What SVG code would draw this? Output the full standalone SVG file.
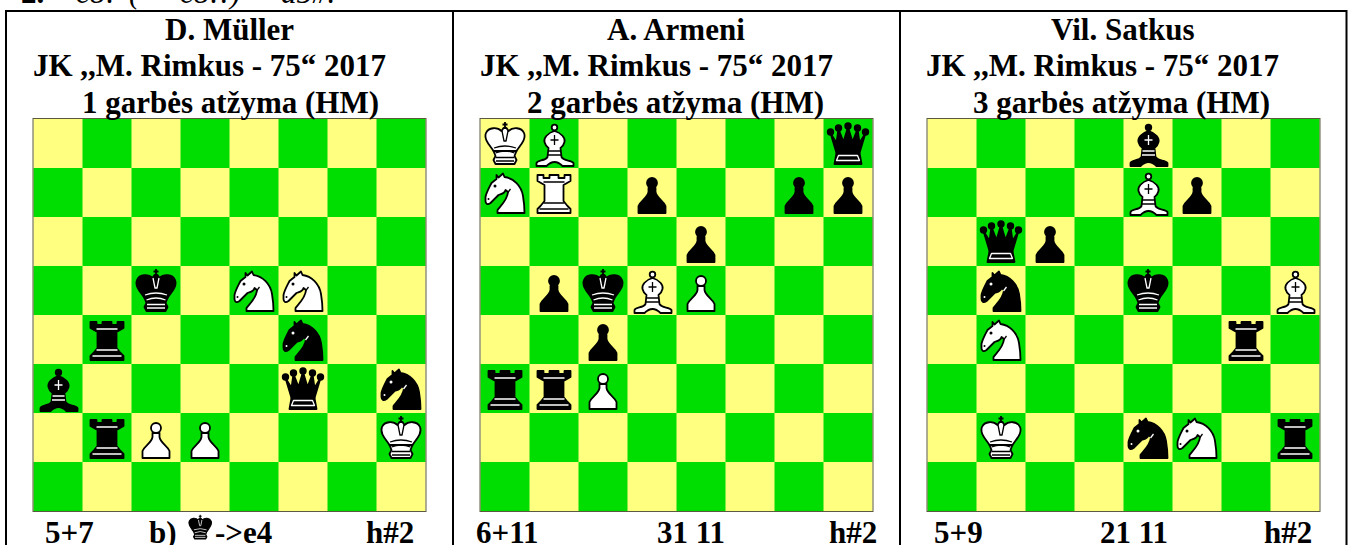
<svg xmlns="http://www.w3.org/2000/svg" width="1349" height="545" viewBox="0 0 1349 545">
<style>
text{font-family:"Liberation Serif","Times New Roman",serif;font-weight:700;font-size:31px;fill:#000}
.top{font-style:italic;font-weight:400}
.frame{stroke:#000;stroke-width:2;fill:none}
.y{fill:#ffff80}
.g{fill:#00dd00}
.w{fill:#fff;stroke:#000;color:#000;stroke-width:1.8;stroke-linejoin:round}
.b{fill:#000;stroke:#000;color:#fff;stroke-width:1.8;stroke-linejoin:round}
.d{fill:none;stroke:currentColor;stroke-width:1.3}
.e{fill:currentColor;stroke:none}
</style>
<defs>
<g id="board">
<rect class="y" width="392" height="392"/>
<path class="g" d="M49 0h49v49h-49zM147 0h49v49h-49zM245 0h49v49h-49zM343 0h49v49h-49zM0 49h49v49h-49zM98 49h49v49h-49zM196 49h49v49h-49zM294 49h49v49h-49zM49 98h49v49h-49zM147 98h49v49h-49zM245 98h49v49h-49zM343 98h49v49h-49zM0 147h49v49h-49zM98 147h49v49h-49zM196 147h49v49h-49zM294 147h49v49h-49zM49 196h49v49h-49zM147 196h49v49h-49zM245 196h49v49h-49zM343 196h49v49h-49zM0 245h49v49h-49zM98 245h49v49h-49zM196 245h49v49h-49zM294 245h49v49h-49zM49 294h49v49h-49zM147 294h49v49h-49zM245 294h49v49h-49zM343 294h49v49h-49zM0 343h49v49h-49zM98 343h49v49h-49zM196 343h49v49h-49zM294 343h49v49h-49z"/>
<rect x="-.5" y="-.5" width="393" height="393" fill="none" stroke="#5a5a40" stroke-width="1"/>
</g>
<g id="K">
<path d="M24.5 3v7M22 5.5h5" fill="none"/>
<path d="M21 12C17 8 8 8 5.500 14C3 20 9 26 13 32H36C40 26 46 20 43.500 14C41 8 32 8 28 12L26 9H23Z"/>
<path d="M13 32L15 37L13 41L15 45H34L36 41L34 37L36 32Z"/>
<path class="d" d="M21.500 12L23.500 22L25.500 22L27.500 12M13.500 29Q24.500 25 35.500 29M15 34Q24.500 30 34 34M15.500 38.500H33.500M15.500 42H33.500"/>
</g>
<g id="Q">
<circle cx="7" cy="13" r="2.800"/><circle cx="15" cy="9" r="2.800"/><circle cx="24.500" cy="7" r="2.800"/><circle cx="34" cy="9" r="2.800"/><circle cx="42" cy="13" r="2.800"/>
<path d="M7 14L13 24L15 10L20 23L24.500 8L29 23L34 10L36 24L42 14L36 34H13Z"/>
<path d="M13 34H36L38 45H11Z"/>
<path class="d" d="M15 36.500H34L36 41.500H13Z"/>
</g>
<g id="R">
<path d="M8 7H14V10H20V7H29V10H35V7H41V13L34 17V33L38 38L41 41V45H8V41L11 38L15 33V17L8 13Z"/>
<path class="d" d="M14 14H35M14 35H35M10 41H39"/>
</g>
<g id="B">
<circle cx="25" cy="8.500" r="2.800"/>
<path d="M25 12C18 14 14 19 15 23C16 27 19 29 19 29L18 38C16 42 8 41 7 44V47H17C19 45 22 43 25 43C28 43 31 45 33 47H44V44C42 41 34 42 32 38L31 29C31 29 34 27 35 23C36 19 32 14 25 12Z"/>
<path class="d" d="M25 16V26M21 21H29M19 32H31M18.500 36H31.500"/>
</g>
<g id="N">
<path d="M16 7L18 9.500L22.500 5.500L24 9C33 10 41 18 42.500 28C43.500 34 44 40 44 45H17L17 42C20 38 27 32 27.500 24L25 22C24 26 20 26 18 27L10 35C7 37 5 36 5 33V29C6 24 9 19 11 15L16 11Z"/>
<circle class="e" cx="14.500" cy="18" r="1.500"/>
<circle class="e" cx="8" cy="31" r="1"/>
<path class="d" d="M27 25L30 21"/>
</g>
<g id="P">
<circle cx="24.500" cy="15" r="5"/>
<path d="M21 20H28V24C29 30 36 33 38 38V45H11V38C13 33 20 30 21 24Z"/>
</g>
</defs>
<g id="frame">
<path class="frame" d="M6 545V11H1346.500V545M453 11V545M900 11V545"/>
</g>
<text x="21" y="2.500">2.</text>
<text class="top" x="76" y="2.500">c8!</text>
<text class="top" x="129" y="2.500">(–</text>
<text class="top" x="180" y="2.500">c8!!)</text>
<text class="top" x="252" y="2.500">–</text>
<text class="top" x="281" y="2.500">a5#.</text>
<g id="diagram1">
<use href="#board" x="33.500" y="119"/>
<g transform="translate(33.500 119)">
<use class="b" href="#K" x="98" y="147"/><use class="w" href="#N" x="196" y="147"/><use class="w" href="#N" x="245" y="147"/>
<use class="b" href="#R" x="49" y="196"/><use class="b" href="#N" x="245" y="196"/>
<use class="b" href="#B" x="0" y="245"/><use class="b" href="#Q" x="245" y="245"/><use class="b" href="#N" x="343" y="245"/>
<use class="b" href="#R" x="49" y="294"/><use class="w" href="#P" x="98" y="294"/><use class="w" href="#P" x="147" y="294"/><use class="w" href="#K" x="343" y="294"/>
</g>
<text x="165" y="40">D. Müller</text>
<text x="33" y="76">JK ,,M. Rimkus - 75“ 2017</text>
<text x="82" y="112.500">1 garbės atžyma (HM)</text>
<text x="45" y="543">5+7</text>
<text x="149" y="543">b)</text>
<use class="b" href="#K" transform="translate(186 513) scale(.58)"/>
<text x="215" y="543">-&gt;e4</text>
<text x="366" y="543">h#2</text>
</g>
<g id="diagram2">
<use href="#board" x="480.500" y="119"/>
<g transform="translate(480.500 119)">
<use class="w" href="#K" x="0" y="0"/><use class="w" href="#B" x="49" y="0"/><use class="b" href="#Q" x="343" y="0"/>
<use class="w" href="#N" x="0" y="49"/><use class="w" href="#R" x="49" y="49"/><use class="b" href="#P" x="147" y="49"/><use class="b" href="#P" x="294" y="49"/><use class="b" href="#P" x="343" y="49"/>
<use class="b" href="#P" x="196" y="98"/>
<use class="b" href="#P" x="49" y="147"/><use class="b" href="#K" x="98" y="147"/><use class="w" href="#B" x="147" y="147"/><use class="w" href="#P" x="196" y="147"/>
<use class="b" href="#P" x="98" y="196"/>
<use class="b" href="#R" x="0" y="245"/><use class="b" href="#R" x="49" y="245"/><use class="w" href="#P" x="98" y="245"/>
</g>
<text x="607" y="40">A. Armeni</text>
<text x="480" y="76">JK ,,M. Rimkus - 75“ 2017</text>
<text x="527" y="112.500">2 garbės atžyma (HM)</text>
<text x="476" y="543">6+11</text>
<text x="657" y="543">31 11</text>
<text x="829" y="543">h#2</text>
</g>
<g id="diagram3">
<use href="#board" x="927.500" y="119"/>
<g transform="translate(927.500 119)">
<use class="b" href="#B" x="196" y="0"/>
<use class="w" href="#B" x="196" y="49"/><use class="b" href="#P" x="245" y="49"/>
<use class="b" href="#Q" x="49" y="98"/><use class="b" href="#P" x="98" y="98"/>
<use class="b" href="#N" x="49" y="147"/><use class="b" href="#K" x="196" y="147"/><use class="w" href="#B" x="343" y="147"/>
<use class="w" href="#N" x="49" y="196"/><use class="b" href="#R" x="294" y="196"/>
<use class="w" href="#K" x="49" y="294"/><use class="b" href="#N" x="196" y="294"/><use class="w" href="#N" x="245" y="294"/><use class="b" href="#R" x="343" y="294"/>
</g>
<text x="1051" y="40">Vil. Satkus</text>
<text x="926" y="76">JK ,,M. Rimkus - 75“ 2017</text>
<text x="973" y="112.500">3 garbės atžyma (HM)</text>
<text x="934" y="543">5+9</text>
<text x="1100" y="543">21 11</text>
<text x="1264" y="543">h#2</text>
</g>
</svg>
